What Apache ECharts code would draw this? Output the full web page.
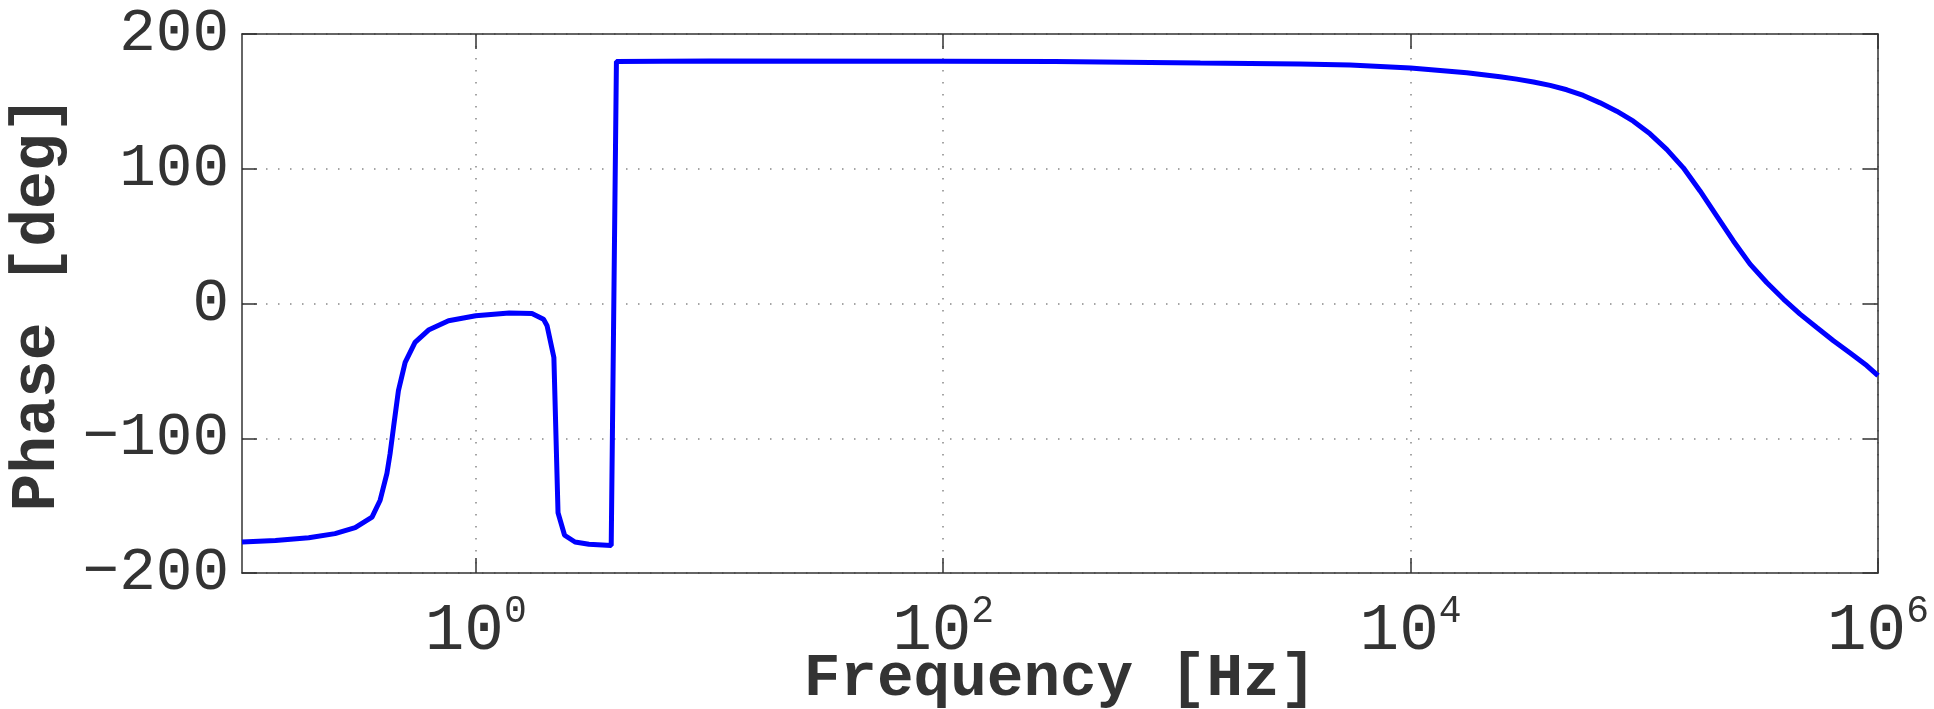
<!DOCTYPE html>
<html>
<head>
<meta charset="utf-8">
<script src="https://cdn.jsdelivr.net/npm/echarts@6/dist/echarts.min.js"></script>
<style>
html,body{margin:0;padding:0;background:#fff;}
#chart{width:1934px;height:709px;}
</style>
</head>
<body>
<div id="chart"></div>
<script>
// Frequency [Hz]
var freq = [0.1, 0.139, 0.193, 0.25, 0.305, 0.36, 0.39, 0.417, 0.43, 0.445, 0.467, 0.499, 0.55, 0.628, 0.765, 1.0, 1.39, 1.74, 1.95, 2.02, 2.16, 2.25, 2.4, 2.66, 3.05, 3.8,
  4.0, 10, 100, 300, 600, 1260, 3365, 5510, 10000, 17400, 24150, 28450, 33570, 39540, 46600, 54850, 64700, 76200, 89800, 105800, 124700, 146900,
  173200, 204000, 240500, 283500, 334000, 393800, 464100, 547000, 644600, 760000, 895000, 1000000];
// Phase [deg]
var phase = [-177, -175.8, -173.8, -170.8, -166.4, -158.5, -146, -126, -111.6, -91.8, -64.7, -43.7, -28.9, -19.7, -12.8, -9.1, -7.1, -7.4, -11.6, -16.5, -40, -155.3, -172, -177, -178.7, -179.6,
  179.6, 179.9, 179.8, 179.5, 179.1, 178.5, 177.8, 177.0, 174.8, 171.3, 168.3, 166.5, 164.4, 161.9, 158.6, 154.4, 148.9, 142.7, 135.3, 125.9, 114.4, 100.7,
  83.5, 65.0, 46.4, 29.2, 15.6, 3.3, -7.9, -17.8, -27.6, -36.8, -46.1, -53.6];
var xTickValues = [1, 100, 10000, 1000000];
var yTicks = [-200, -100, 0, 100, 200];

var data = freq.map(function (f, i) { return [f, phase[i]]; });
var TXT = '#333333';
var FONT = 'Liberation Mono';

var chart = echarts.init(document.getElementById('chart'));
chart.setOption({
  animation: false,
  backgroundColor: '#ffffff',
  grid: { left: 242, right: 56, top: 34, bottom: 136, outerBoundsMode: 'none', containLabel: false },
  xAxis: [{
    type: 'log', logBase: 10, min: 0.1, max: 1000000,
    name: 'Frequency [Hz]', nameLocation: 'middle', nameGap: 76, nameMoveOverlap: false,
    nameTextStyle: { fontFamily: FONT, fontWeight: 'bold', fontSize: 61, color: TXT },
    axisLine: { show: true, onZero: false, lineStyle: { color: '#333', width: 1.5 } },
    axisTick: { show: true, inside: true, length: 15, customValues: xTickValues, lineStyle: { color: '#333', width: 1.5 } },
    axisLabel: {
      customValues: xTickValues, margin: 20,
      formatter: function (v) { return '{b|10}{s|' + Math.round(Math.log10(v)) + '}'; },
      rich: {
        b: { fontFamily: FONT, fontSize: 66, color: TXT, lineHeight: 72, verticalAlign: 'bottom' },
        s: { fontFamily: FONT, fontSize: 38, color: TXT, verticalAlign: 'top', lineHeight: 18 }
      }
    },
    splitLine: { show: true, lineStyle: { color: '#888', width: 1.5, type: [1.5, 10.5] } }
  }, {
    type: 'log', logBase: 10, min: 0.1, max: 1000000, position: 'top',
    axisLine: { show: true, onZero: false, lineStyle: { color: '#333', width: 1.5 } },
    axisTick: { show: true, inside: true, length: 15, customValues: xTickValues, lineStyle: { color: '#333', width: 1.5 } },
    axisLabel: { show: false }, splitLine: { show: false }
  }],
  yAxis: [{
    type: 'value', min: -200, max: 200, interval: 100,
    name: 'Phase [deg]', nameLocation: 'middle', nameGap: 172,
    nameTextStyle: { fontFamily: FONT, fontWeight: 'bold', fontSize: 63, color: TXT },
    axisLine: { show: true, onZero: false, lineStyle: { color: '#333', width: 1.5 } },
    axisTick: { show: true, inside: true, length: 15, lineStyle: { color: '#333', width: 1.5 } },
    axisLabel: {
      fontFamily: FONT, fontSize: 61, color: TXT, margin: 13,
      formatter: function (v) { return String(v).replace('-', '\u2212'); }
    },
    splitLine: { show: true, lineStyle: { color: '#888', width: 1.5, type: [1.5, 10.5] } }
  }, {
    type: 'value', min: -200, max: 200, interval: 100, position: 'right',
    axisLine: { show: true, onZero: false, lineStyle: { color: '#333', width: 1.5 } },
    axisTick: { show: true, inside: true, length: 15, lineStyle: { color: '#333', width: 1.5 } },
    axisLabel: { show: false }, splitLine: { show: false }
  }],
  series: [{
    type: 'line', xAxisIndex: 0, yAxisIndex: 0, data: data,
    showSymbol: false, smooth: false,
    lineStyle: { color: '#0000ff', width: 5 }
  }]
});
</script>
</body>
</html>
